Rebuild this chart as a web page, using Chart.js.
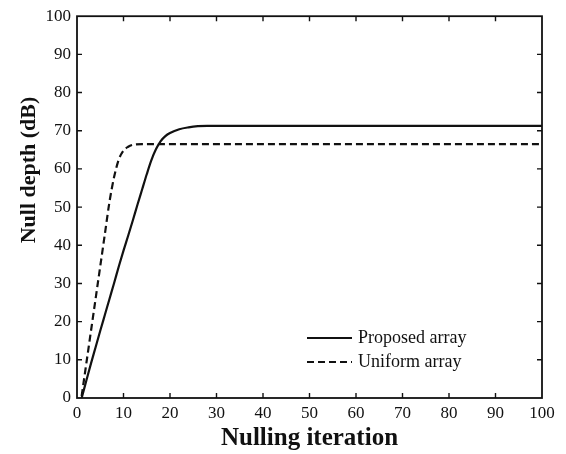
<!DOCTYPE html>
<html>
<head>
<meta charset="utf-8">
<script src="https://cdn.jsdelivr.net/npm/chart.js@4"></script>
<style>
  body { margin: 0; background: #fff; }
  #wrap { width: 566px; height: 454px; }
</style>
</head>
<body>
<div id="wrap"><canvas id="myChart" width="566" height="454"></canvas></div>
<script>
// dati
const proposedIter = [1, 2, 3, 4, 5, 6, 7, 8, 9, 10, 11, 12, 13, 14, 15, 16, 17, 18, 19, 20, 22, 24, 26, 28, 40, 60, 80, 100]
const proposedDepth = [0, 4.5, 9, 13.3, 17.6, 21.8, 26, 30.2, 34.5, 38.6, 42.5, 46.5, 50.6, 54.6, 58.6, 62.3, 65.2, 67.3, 68.6, 69.4, 70.4, 70.9, 71.2, 71.3, 71.3, 71.3, 71.3, 71.3]
const uniformIter = [1, 2, 3, 4, 5, 6, 7, 8, 9, 10, 11, 12, 14, 20, 40, 60, 80, 100]
const uniformDepth = [0.5, 9, 17.5, 26, 34.5, 43, 51.5, 58, 62.5, 64.8, 65.8, 66.3, 66.5, 66.5, 66.5, 66.5, 66.5, 66.5]
const seriesNames = ["Proposed array", "Uniform array"]
const xTitle = "Nulling iteration"
const yTitle = "Null depth (dB)"

const serif = "'Liberation Serif', 'Times New Roman', serif"
const ink = "#111"

function toPoints(xs, ys) {
  let pts = []
  for (let i = 0; i < xs.length; i++) pts.push({ x: xs[i], y: ys[i] })
  return pts
}

// cornice, tacche verso l'interno, legenda e titolo asse y
const framePlugin = {
  id: "frame",
  afterDraw(chart) {
    const ctx = chart.ctx
    const a = chart.chartArea
    const xs = chart.scales.x
    const ys = chart.scales.y
    ctx.save()
    ctx.strokeStyle = ink
    ctx.lineWidth = 1.8
    ctx.strokeRect(a.left, a.top, a.right - a.left, a.bottom - a.top)
    ctx.lineWidth = 1.4
    ctx.beginPath()
    for (let v = 10; v < 100; v += 10) {
      let px = xs.getPixelForValue(v)
      ctx.moveTo(px, a.bottom); ctx.lineTo(px, a.bottom - 5)
      ctx.moveTo(px, a.top); ctx.lineTo(px, a.top + 5)
      let py = ys.getPixelForValue(v)
      ctx.moveTo(a.left, py); ctx.lineTo(a.left + 5, py)
      ctx.moveTo(a.right, py); ctx.lineTo(a.right - 5, py)
    }
    ctx.stroke()

    // legenda
    const rows = [338, 362]
    chart.data.datasets.forEach((ds, i) => {
      ctx.strokeStyle = ink
      ctx.lineWidth = 2.2
      ctx.setLineDash(ds.borderDash || [])
      ctx.beginPath()
      ctx.moveTo(307, rows[i]); ctx.lineTo(352, rows[i])
      ctx.stroke()
      ctx.setLineDash([])
      ctx.fillStyle = ink
      ctx.font = "18px " + serif
      ctx.textBaseline = "middle"
      ctx.textAlign = "left"
      ctx.fillText(ds.label, 358, rows[i])
    })

    // titolo asse y
    ctx.translate(35, 170)
    ctx.rotate(-Math.PI / 2)
    ctx.font = "bold 22px " + serif
    ctx.textAlign = "center"
    ctx.textBaseline = "alphabetic"
    ctx.fillText(yTitle, 0, 0)
    ctx.restore()
  }
}

const ctx = document.getElementById("myChart").getContext("2d")
const myChart = new Chart(ctx, {
  type: "line",
  data: {
    datasets: [{
      label: seriesNames[0],
      data: toPoints(proposedIter, proposedDepth),
      borderColor: ink,
      borderWidth: 2.2,
      pointRadius: 0,
      cubicInterpolationMode: "monotone"
    }, {
      label: seriesNames[1],
      data: toPoints(uniformIter, uniformDepth),
      borderColor: ink,
      borderWidth: 2.2,
      borderDash: [7, 4],
      pointRadius: 0,
      cubicInterpolationMode: "monotone"
    }]
  },
  options: {
    responsive: false,
    animation: false,
    layout: { padding: { top: 15, right: 24, bottom: 0, left: 0 } },
    plugins: { legend: { display: false }, tooltip: { enabled: false } },
    scales: {
      x: {
        type: "linear",
        min: 0, max: 100,
        grid: { display: false, drawTicks: false },
        border: { display: false },
        ticks: { stepSize: 10, padding: 5, color: ink, font: { family: serif, size: 17 }, maxRotation: 0 },
        title: { display: true, text: xTitle, color: ink, font: { family: serif, size: 25, weight: "bold" }, padding: { top: 0, bottom: 0 } },
        afterFit(scale) { scale.height = 56 }
      },
      y: {
        min: 0, max: 100,
        grid: { display: false, drawTicks: false },
        border: { display: false },
        ticks: { stepSize: 10, padding: 6, color: ink, font: { family: serif, size: 17 } },
        afterFit(scale) { scale.width = 77 }
      }
    }
  },
  plugins: [framePlugin]
})
</script>
</body>
</html>
